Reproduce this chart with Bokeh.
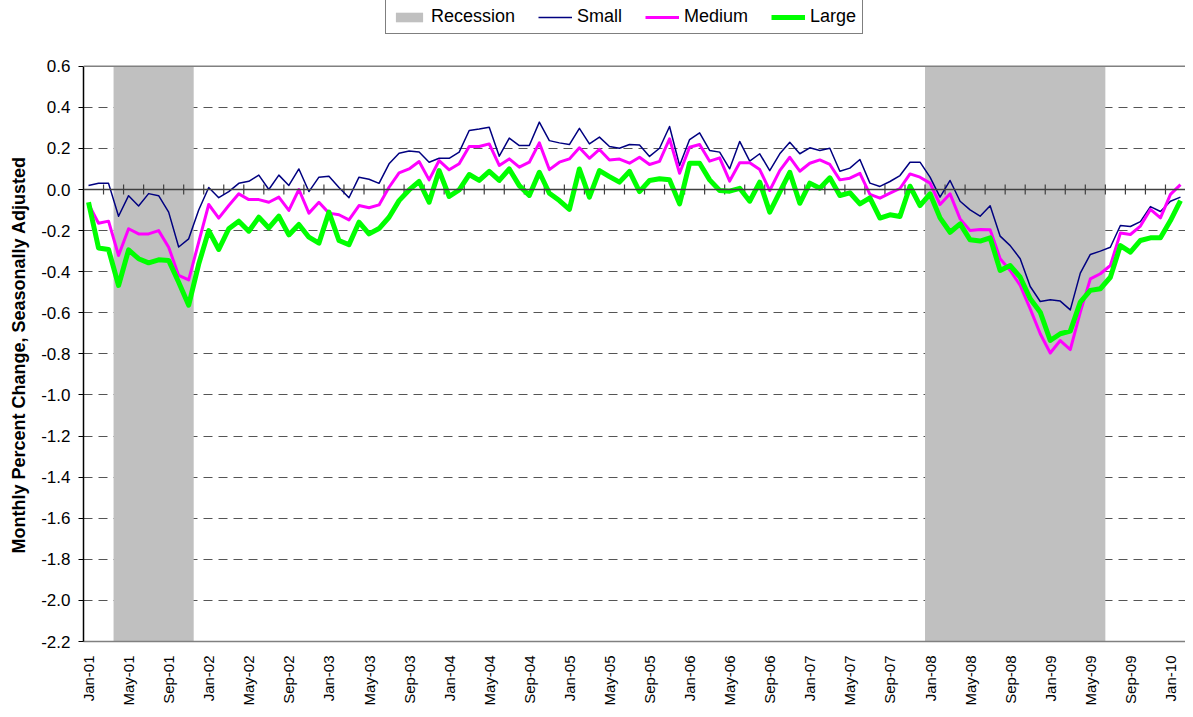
import numpy as np
from bokeh.plotting import figure
from bokeh.models import (Range1d, FixedTicker, NumeralTickFormatter, Span,
                          Legend, LegendItem, ColumnDataSource, Title)
from bokeh.embed import file_html
from bokeh.resources import INLINE

# ---------------- data ----------------
month_abbr = ["Jan", "Feb", "Mar", "Apr", "May", "Jun",
              "Jul", "Aug", "Sep", "Oct", "Nov", "Dec"]
years = [f"{y:02d}" for y in range(1, 11)]
months = [f"{m}-{y}" for y in years for m in month_abbr][:110]   # Jan-01 .. Feb-10

small = [0.02, 0.03, 0.03, -0.13, -0.03, -0.08, -0.02, -0.03, -0.11, -0.28,
         -0.24, -0.10, 0.01, -0.04, -0.01, 0.03, 0.04, 0.07, 0.00, 0.07,
         0.02, 0.10, -0.01, 0.06, 0.065, 0.01, -0.04, 0.06, 0.05, 0.03,
         0.125, 0.177, 0.187, 0.183, 0.133, 0.152, 0.152, 0.182, 0.287, 0.294,
         0.303, 0.162, 0.25, 0.214, 0.214, 0.328, 0.238, 0.227, 0.219, 0.298,
         0.222, 0.255, 0.209, 0.201, 0.219, 0.217, 0.161, 0.201, 0.307, 0.117,
         0.243, 0.276, 0.19, 0.182, 0.101, 0.234, 0.138, 0.174, 0.092, 0.174,
         0.23, 0.174, 0.203, 0.19, 0.201, 0.089, 0.104, 0.146, 0.031, 0.015,
         0.039, 0.068, 0.133, 0.133, 0.06, -0.037, 0.044, -0.057, -0.099, -0.13,
         -0.079, -0.227, -0.273, -0.337, -0.472, -0.545, -0.537, -0.543, -0.586, -0.407,
         -0.316, -0.3, -0.281, -0.175, -0.18, -0.156, -0.083, -0.107, -0.057, -0.037]

medium = [-0.07, -0.164, -0.154, -0.321, -0.191, -0.216, -0.216, -0.2, -0.281, -0.418,
          -0.44, -0.256, -0.073, -0.139, -0.078, -0.021, -0.049, -0.049, -0.062, -0.037,
          -0.102, 0.0, -0.115, -0.062, -0.115, -0.123, -0.148, -0.078, -0.089, -0.075,
          0.011, 0.081, 0.1, 0.136, 0.047, 0.141, 0.096, 0.125, 0.209, 0.209,
          0.222, 0.117, 0.149, 0.109, 0.133, 0.227, 0.097, 0.133, 0.149, 0.203,
          0.152, 0.195, 0.144, 0.148, 0.128, 0.157, 0.122, 0.137, 0.247, 0.079,
          0.206, 0.219, 0.138, 0.154, 0.041, 0.13, 0.13, 0.097, -0.005, 0.092,
          0.157, 0.089, 0.128, 0.144, 0.122, 0.047, 0.055, 0.079, -0.024, -0.042,
          -0.018, 0.005, 0.076, 0.06, 0.031, -0.073, -0.021, -0.143, -0.2, -0.195,
          -0.196, -0.337, -0.394, -0.467, -0.581, -0.702, -0.796, -0.735, -0.779, -0.597,
          -0.435, -0.41, -0.37, -0.212, -0.219, -0.178, -0.097, -0.138, -0.024, 0.024]

large = [-0.062, -0.285, -0.292, -0.467, -0.294, -0.337, -0.357, -0.342, -0.345, -0.451,
         -0.563, -0.363, -0.2, -0.292, -0.191, -0.154, -0.203, -0.135, -0.187, -0.13,
         -0.221, -0.17, -0.232, -0.261, -0.11, -0.248, -0.269, -0.159, -0.216, -0.19,
         -0.135, -0.054, -0.002, 0.039, -0.062, 0.092, -0.034, -0.002, 0.073, 0.044,
         0.088, 0.044, 0.1, 0.019, -0.029, 0.084, -0.018, -0.054, -0.097, 0.1,
         -0.037, 0.092, 0.063, 0.036, 0.088, -0.01, 0.044, 0.052, 0.047, -0.07,
         0.128, 0.128, 0.047, -0.005, -0.008, 0.006, -0.057, 0.036, -0.11, -0.013,
         0.084, -0.067, 0.031, 0.006, 0.057, -0.029, -0.016, -0.07, -0.041, -0.139,
         -0.123, -0.131, 0.016, -0.078, -0.021, -0.138, -0.208, -0.167, -0.245, -0.251,
         -0.235, -0.394, -0.37, -0.427, -0.532, -0.597, -0.735, -0.702, -0.689, -0.548,
         -0.491, -0.483, -0.427, -0.273, -0.305, -0.248, -0.235, -0.235, -0.151, -0.054]

recession_start = ["Apr-01", "Jan-08"]
recession_end = ["Nov-01", "Jun-09"]

y_title = "Monthly Percent Change, Seasonally Adjusted"
y_min, y_max, y_step = -2.2, 0.6, 0.2

# ---------------- figure ----------------
n = len(months)
x = list(range(n))
FONT = "Liberation Sans"
LEGEND_ROOM = 0.32   # extra room above the data area for the legend (layout only)

p = figure(width=1185, height=709, output_backend="svg", toolbar_location=None,
           x_range=Range1d(-0.5, n - 0.5),
           y_range=Range1d(y_min, y_max + LEGEND_ROOM),
           min_border_left=83, min_border_right=0, min_border_top=0,
           min_border_bottom=68)
p.background_fill_color = "white"
p.border_fill_color = "white"
p.outline_line_color = None

# recession shading
rec_src = ColumnDataSource(dict(
    left=[months.index(s) - 0.5 for s in recession_start],
    right=[months.index(e) + 0.5 for e in recession_end],
))
rec = p.quad(left="left", right="right", top=y_max, bottom=y_min, source=rec_src,
             fill_color="#C0C0C0", line_color=None)

# top border of the plot area
p.add_layout(Span(location=y_max, dimension="width", line_color="#808080",
                  line_width=1.5))

# zero line and its tick marks (between every second category)
p.add_layout(Span(location=0, dimension="width", line_color="#404040",
                  line_width=1.5))
tick_x = list(np.arange(1.5, n - 1, 2))
p.scatter(x=tick_x, y=[0] * len(tick_x), marker="dash", angle=np.pi / 2,
          size=10, line_color="#404040", line_width=1.2)

src = ColumnDataSource(dict(x=x, small=small, medium=medium, large=large))
r_small = p.line("x", "small", source=src, line_color="#000080", line_width=1.5,
                 line_join="round")
r_medium = p.line("x", "medium", source=src, line_color="#FF00FF", line_width=3,
                  line_join="round")
r_large = p.line("x", "large", source=src, line_color="#00FF00", line_width=5,
                 line_join="round")

# grid
yticks = [round(y_min + i * y_step, 1) for i in range(int(round((y_max - y_min) / y_step)) + 1)]
p.xgrid.visible = False
p.ygrid.ticker = FixedTicker(ticks=yticks[1:-1])
p.ygrid.grid_line_color = "#555555"
p.ygrid.grid_line_dash = "9 6"
p.ygrid.grid_line_width = 1

# y axis
yax = p.yaxis[0]
yax.ticker = FixedTicker(ticks=yticks)
yax.bounds = (y_min, y_max)
yax.formatter = NumeralTickFormatter(format="0.0")
yax.axis_line_color = "black"
yax.axis_line_width = 1.5
yax.major_tick_line_color = "black"
yax.major_tick_out = 5
yax.major_tick_in = 0
yax.minor_tick_out = 0
yax.minor_tick_in = 0
yax.major_label_text_font = FONT
yax.major_label_text_font_size = "17px"
yax.major_label_text_color = "black"
yax.major_label_standoff = 8

# y-axis title, placed along the data part of the axis
p.add_layout(Title(text=y_title, align="left", offset=88, vertical_align="top",
                   standoff=15, text_font=FONT, text_font_size="18px",
                   text_font_style="bold", text_color="black"), "left")

# x axis
xax = p.xaxis[0]
label_idx = list(range(0, n, 4))
xax.ticker = FixedTicker(ticks=label_idx)
xax.major_label_overrides = {i: months[i] for i in label_idx}
xax.major_label_orientation = np.pi / 2
xax.axis_line_color = "#808080"
xax.axis_line_width = 1.5
xax.major_tick_out = 0
xax.major_tick_in = 0
xax.minor_tick_out = 0
xax.minor_tick_in = 0
xax.major_label_text_font = FONT
xax.major_label_text_font_size = "15px"
xax.major_label_text_color = "black"
xax.major_label_standoff = 14

# legend
legend = Legend(items=[
    LegendItem(label="Recession", renderers=[rec]),
    LegendItem(label="Small", renderers=[r_small]),
    LegendItem(label="Medium", renderers=[r_medium]),
    LegendItem(label="Large", renderers=[r_large]),
], orientation="horizontal", location=(302, 607))
legend.border_line_color = "black"
legend.border_line_width = 1
legend.background_fill_color = "white"
legend.background_fill_alpha = 1
legend.label_text_font = FONT
legend.label_text_font_size = "18px"
legend.label_text_color = "black"
legend.glyph_width = 34
legend.glyph_height = 12
legend.label_height = 12
legend.label_standoff = 5
legend.spacing = 23
legend.padding = 6
legend.margin = 0
p.add_layout(legend)

open("out.html", "w").write(file_html(p, INLINE))
